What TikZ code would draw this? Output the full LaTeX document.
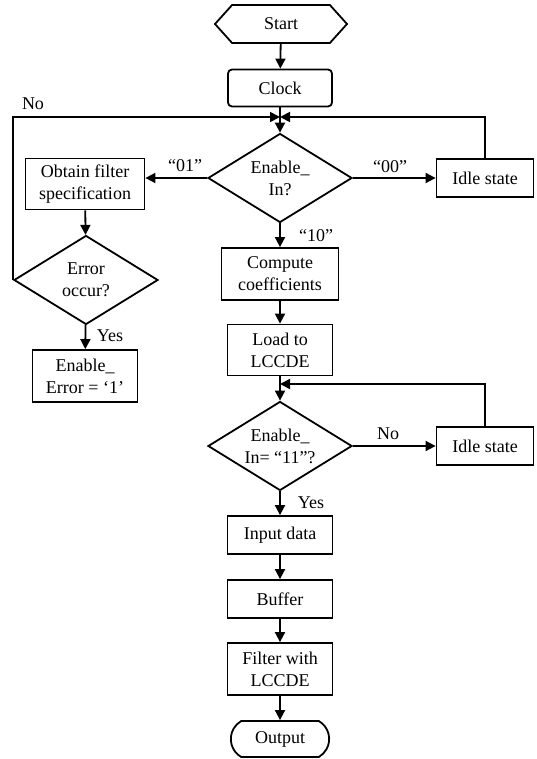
\documentclass[tikz,border=0pt]{standalone}
\usepackage{fontspec}
\setmainfont{Liberation Serif}
\usetikzlibrary{shapes.geometric,shapes.misc,shapes.symbols,arrows.meta}

\begin{document}
\begin{tikzpicture}[x=1pt,y=-1pt,
    line width=1.8pt,
    font=\fontsize{18}{22}\selectfont,
    box/.style={draw, rectangle, align=center, inner sep=2pt},
    dec/.style={draw, diamond, aspect=1.6, align=center, inner sep=0pt,
                minimum width=144pt, minimum height=89pt},
    arr/.style={-{Triangle[length=10pt,width=10pt]}},
    lbl/.style={inner sep=0pt}]
  \useasboundingbox (0,0) rectangle (536,759);

  % main column
  \node[draw, signal, signal to=west and east, signal pointer angle=96,
        minimum width=132pt, minimum height=38pt] (start) at (281,24) {Start};
  \node[box, rounded corners=4pt, minimum width=104pt, minimum height=37pt] (clock) at (280,88) {Clock};
  \coordinate (j1) at (280,117);
  \node[dec] (dec1) at (280,178) {Enable\_\\In?};
  \node[box, minimum width=117pt, minimum height=52pt] (compute) at (280,274) {Compute\\coefficients};
  \node[box, minimum width=105pt, minimum height=51pt] (load) at (280,350) {Load to\\LCCDE};
  \coordinate (j2) at (280,384);
  \node[dec] (dec2) at (280,446) {Enable\_\\In= “11”?};
  \node[box, minimum width=105pt, minimum height=38pt] (input) at (280,535) {Input data};
  \node[box, minimum width=105pt, minimum height=38pt] (buffer) at (280,599) {Buffer};
  \node[box, minimum width=105pt, minimum height=52pt] (filter) at (280,669) {Filter with\\LCCDE};
  \node[draw, rounded rectangle, rounded rectangle arc length=120,
        minimum width=105pt, minimum height=36pt] (output) at (280,739) {Output};

  % left branch
  \node[box, minimum width=119pt, minimum height=51pt] (obtain) at (85,184) {Obtain filter\\specification};
  \node[dec] (err) at (86,280) {Error\\occur?};
  \node[box, minimum width=105pt, minimum height=52pt] (enerr) at (85,376) {Enable\_\\Error = ‘1’};

  % right branch
  \node[box, minimum width=97pt, minimum height=38pt] (idle1) at (485,178) {Idle state};
  \node[box, minimum width=97pt, minimum height=38pt] (idle2) at (485,446) {Idle state};

  % labels
  \node[lbl] (l01) at (185,166) {“01”};
  \node[lbl] (l00) at (390,167) {“00”};
  \node[lbl] (l10) at (316,236) {“10”};
  \node[lbl] (lno1) at (33,104) {No};
  \node[lbl] (lyes1) at (110,336) {Yes};
  \node[lbl] (lno2) at (388,434) {No};
  \node[lbl] (lyes2) at (311,503) {Yes};

  % connectors
  \draw[arr] (start) -- (clock);
  \draw[arr] (clock) -- (dec1);
  \draw[arr] (err.west) |- (j1);
  \draw[arr] (idle1.north) |- (j1);
  \draw[arr] (dec1.west) -- (dec1.west -| obtain.east);
  \draw[arr] (dec1) -- (idle1);
  \draw[arr] (dec1) -- (compute);
  \draw[arr] (obtain) -- (err);
  \draw[arr] (err) -- (enerr);
  \draw[arr] (compute) -- (load);
  \draw[arr] (load) -- (dec2);
  \draw[arr] (idle2.north) |- (j2);
  \draw[arr] (dec2) -- (idle2);
  \draw[arr] (dec2) -- (input);
  \draw[arr] (input) -- (buffer);
  \draw[arr] (buffer) -- (filter);
  \draw[arr] (filter) -- (output);
\end{tikzpicture}
\end{document}
